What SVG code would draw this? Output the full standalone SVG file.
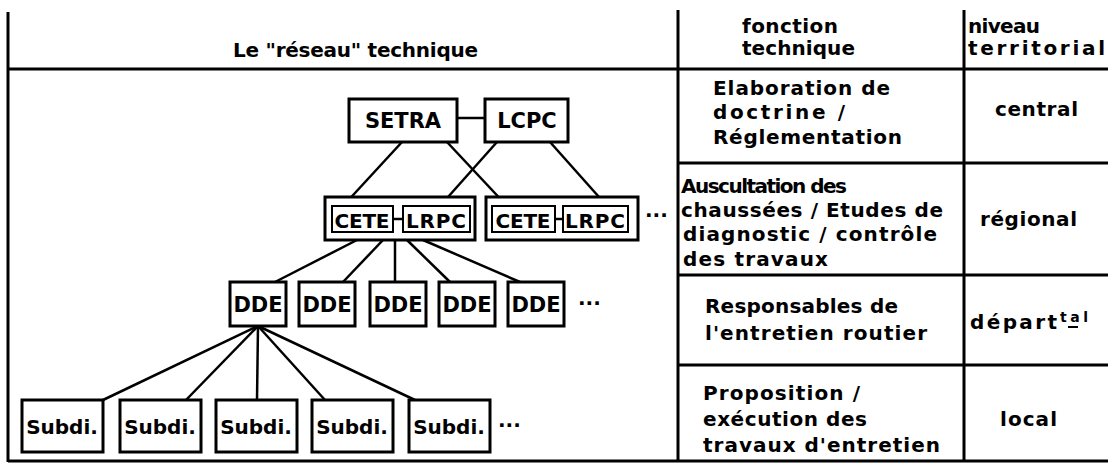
<svg xmlns="http://www.w3.org/2000/svg" width="1108" height="466" viewBox="0 0 1108 466">
<style>
.t{font-family:"DejaVu Sans","Liberation Sans",sans-serif;font-weight:bold;font-size:20px;fill:#000}
.n{font-size:21px}
.c{text-anchor:middle}
.box{fill:#fff;stroke:#000;stroke-width:3}
.ibox{fill:#fff;stroke:#000;stroke-width:2}
.ln{stroke:#000;stroke-width:2.5;fill:none}
.g{stroke:#000;stroke-width:3;fill:none}
</style>
<rect width="1108" height="466" fill="#fff"/>
<g id="grid">
<line class="g" x1="8" y1="12" x2="8" y2="462"/>
<line class="g" x1="8" y1="69" x2="1108" y2="69"/>
<line class="g" x1="678" y1="10" x2="678" y2="462"/>
<line class="g" x1="964" y1="10" x2="964" y2="462"/>
<line class="g" x1="678" y1="163" x2="1108" y2="163"/>
<line class="g" x1="678" y1="275" x2="1108" y2="275"/>
<line class="g" x1="678" y1="365" x2="1108" y2="365"/>
<line class="g" x1="8" y1="461" x2="1108" y2="461" stroke-width="2"/>
</g>
<g id="headers">
<text class="t" x="233" y="57" textLength="245">Le "réseau" technique</text>
<text class="t" x="742" y="33" textLength="96">fonction</text>
<text class="t" x="742" y="55" textLength="113">technique</text>
<text class="t" x="968" y="33" textLength="72">niveau</text>
<text class="t" x="968" y="55" textLength="137">territorial</text>
</g>
<g id="row-central">
<text class="t" x="713" y="95" textLength="177">Elaboration de</text>
<text class="t" x="713" y="119" textLength="132">doctrine /</text>
<text class="t" x="713" y="144" textLength="189">Réglementation</text>
<text class="t" x="995" y="116" textLength="83">central</text>
</g>
<g id="row-regional">
<text class="t" x="681" y="193" textLength="166">Auscultation des</text>
<text class="t" x="681" y="217" textLength="262">chaussées / Etudes de</text>
<text class="t" x="683" y="241" textLength="254">diagnostic / contrôle</text>
<text class="t" x="683" y="266" textLength="145">des travaux</text>
<text class="t" x="980" y="226" textLength="97">régional</text>
</g>
<g id="row-departemental">
<text class="t" x="705" y="313" textLength="193">Responsables de</text>
<text class="t" x="705" y="340" textLength="222">l'entretien routier</text>
<text class="t" x="970" y="329" textLength="87">départ</text>
<text class="t" x="1060" y="322" style="font-size:14px" textLength="28">tal</text>
<line x1="1068" y1="327" x2="1078" y2="327" stroke="#000" stroke-width="2"/>
</g>
<g id="row-local">
<text class="t" x="703" y="400" textLength="157">Proposition /</text>
<text class="t" x="703" y="426" textLength="164">exécution des</text>
<text class="t" x="703" y="452" textLength="237">travaux d'entretien</text>
<text class="t" x="1000" y="426" textLength="57">local</text>
</g>
<g id="connectors">
<line class="ln" x1="457" y1="118" x2="485" y2="118"/>
<line class="ln" x1="402" y1="142" x2="343" y2="206"/>
<line class="ln" x1="447" y1="142" x2="507" y2="206"/>
<line class="ln" x1="497" y1="142" x2="440" y2="206"/>
<line class="ln" x1="550" y1="142" x2="607" y2="206"/>
<line class="ln" x1="357" y1="240" x2="275" y2="282"/>
<line class="ln" x1="383" y1="240" x2="343" y2="282"/>
<line class="ln" x1="395" y1="240" x2="395" y2="282"/>
<line class="ln" x1="407" y1="240" x2="450" y2="282"/>
<line class="ln" x1="423" y1="240" x2="520" y2="282"/>
<line class="ln" x1="258" y1="326" x2="103" y2="400"/>
<line class="ln" x1="258" y1="326" x2="186" y2="400"/>
<line class="ln" x1="258" y1="326" x2="257" y2="400"/>
<line class="ln" x1="258" y1="326" x2="325" y2="400"/>
<line class="ln" x1="258" y1="326" x2="415" y2="400"/>
</g>
<g id="setra"><rect class="box" x="349" y="99" width="108" height="43"/><text class="t c n" x="403" y="128">SETRA</text></g>
<g id="lcpc"><rect class="box" x="485" y="99" width="83" height="43"/><text class="t c n" x="527" y="128">LCPC</text></g>
<g id="cete-lrpc-1">
<rect class="box" x="325" y="197" width="150" height="43"/>
<rect class="ibox" x="332" y="206" width="61" height="26"/>
<rect class="ibox" x="403" y="206" width="67" height="26"/>
<line class="ln" x1="393" y1="219" x2="403" y2="219"/>
<text class="t c" x="362" y="228" textLength="55">CETE</text>
<text class="t c" x="436" y="228" textLength="60">LRPC</text>
</g>
<g id="cete-lrpc-2">
<rect class="box" x="486" y="197" width="152" height="43"/>
<rect class="ibox" x="492" y="206" width="63" height="26"/>
<rect class="ibox" x="563" y="206" width="65" height="26"/>
<line class="ln" x1="555" y1="219" x2="563" y2="219"/>
<text class="t c" x="523" y="228" textLength="55">CETE</text>
<text class="t c" x="595" y="228" textLength="60">LRPC</text>
</g>
<text class="t" x="645" y="222">···</text>
<g id="dde-1"><rect class="box" x="230" y="282" width="56" height="44"/><text class="t c n" x="258" y="312">DDE</text></g>
<g id="dde-2"><rect class="box" x="299" y="282" width="56" height="44"/><text class="t c n" x="327" y="312">DDE</text></g>
<g id="dde-3"><rect class="box" x="370" y="282" width="56" height="44"/><text class="t c n" x="398" y="312">DDE</text></g>
<g id="dde-4"><rect class="box" x="439" y="282" width="56" height="44"/><text class="t c n" x="467" y="312">DDE</text></g>
<g id="dde-5"><rect class="box" x="508" y="282" width="56" height="44"/><text class="t c n" x="536" y="312">DDE</text></g>
<text class="t" x="578" y="310">···</text>
<g id="subdi-1"><rect class="box" x="22" y="400" width="81" height="52"/><text class="t c" x="62" y="434">Subdi.</text></g>
<g id="subdi-2"><rect class="box" x="120" y="400" width="81" height="52"/><text class="t c" x="160" y="434">Subdi.</text></g>
<g id="subdi-3"><rect class="box" x="216" y="400" width="81" height="52"/><text class="t c" x="256" y="434">Subdi.</text></g>
<g id="subdi-4"><rect class="box" x="312" y="400" width="81" height="52"/><text class="t c" x="352" y="434">Subdi.</text></g>
<g id="subdi-5"><rect class="box" x="409" y="400" width="81" height="52"/><text class="t c" x="449" y="434">Subdi.</text></g>
<text class="t" x="498" y="432">···</text>
</svg>
